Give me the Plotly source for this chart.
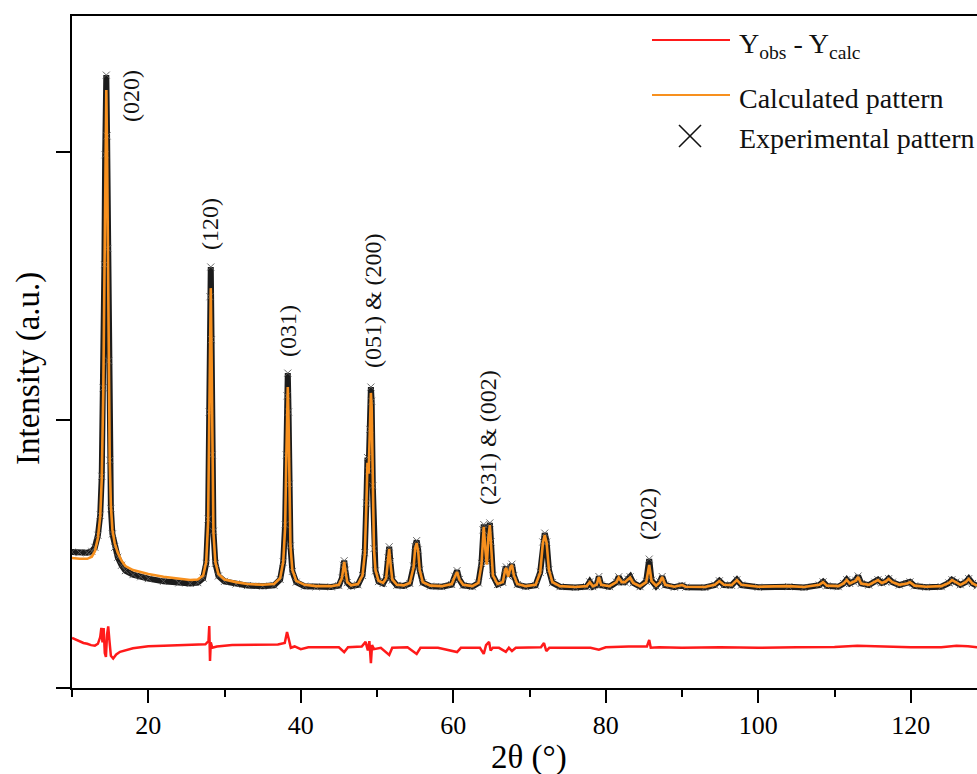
import plotly.graph_objects as go

# ---------------- data ----------------
two_theta = [
    10.0, 11.0, 12.0, 12.6, 13.0, 13.4, 13.7, 13.9, 14.1, 14.25,
    14.35, 14.5, 14.6, 14.7, 14.8, 14.95, 15.1, 15.3, 15.6, 16.0,
    16.5, 17.0, 18.0, 19.0, 20.0, 22.0, 24.0, 25.5, 26.5, 27.2,
    27.6, 27.85, 28.0, 28.1, 28.2, 28.3, 28.4, 28.55, 28.8, 29.2,
    30.0, 31.5, 33.0, 35.0, 36.5, 37.3, 37.7, 37.95, 38.1, 38.2,
    38.3, 38.4, 38.5, 38.65, 38.9, 39.4, 40.5, 42.0, 44.0, 45.0,
    45.4, 45.6, 45.7, 45.85, 46.1, 46.6, 47.5, 48.1, 48.4, 48.6,
    48.75, 48.9, 49.05, 49.2, 49.3, 49.45, 49.6, 49.8, 50.2, 50.8,
    51.2, 51.45, 51.6, 51.75, 52.0, 52.6, 53.5, 54.3, 54.8, 55.0,
    55.2, 55.4, 55.6, 56.0, 57.0, 58.5, 59.8, 60.2, 60.5, 60.8,
    61.3, 62.5, 63.3, 63.7, 63.9, 64.0, 64.2, 64.4, 64.6, 64.8,
    64.95, 65.2, 65.8, 66.5, 66.8, 66.95, 67.2, 67.5, 67.7, 67.95,
    68.4, 69.5, 70.8, 71.4, 71.75, 72.0, 72.25, 72.55, 73.0, 74.0,
    76.0, 77.5, 77.9, 78.3, 78.8, 79.1, 79.4, 80.5, 81.4, 81.7,
    82.1, 82.5, 82.9, 83.2, 83.6, 84.5, 85.3, 85.7, 86.0, 86.6,
    87.1, 87.4, 87.8, 89.0, 90.0, 90.5, 93.0, 94.3, 94.9, 95.5,
    96.5, 97.2, 97.8, 100.0, 104.0, 106.0, 108.0, 108.5, 109.0, 110.5,
    111.2, 111.6, 112.0, 112.5, 112.8, 113.1, 113.5, 114.5, 115.3, 115.7,
    116.2, 116.7, 117.1, 117.6, 118.5, 119.5, 119.9, 120.5, 122.0, 124.0,
    125.0, 125.4, 125.9, 126.5, 127.2, 127.6, 128.1, 128.7,
]

calc_intensity = [
    485, 482, 482, 490, 510, 560, 640, 780, 1100, 1550,
    1950, 2231, 2000, 1600, 1200, 850, 680, 590, 540, 505,
    475, 455, 440, 432, 425, 415, 408, 403, 405, 420,
    470, 620, 1000, 1400, 1492, 1250, 850, 580, 470, 425,
    405, 395, 388, 385, 388, 410, 470, 600, 850, 1050,
    1123, 1000, 750, 530, 440, 400, 385, 380, 380, 385,
    410, 455, 470, 440, 395, 383, 388, 420, 500, 680,
    840, 800, 950, 1101, 1050, 750, 520, 440, 400, 392,
    410, 480, 519, 470, 405, 385, 383, 392, 450, 520,
    541, 510, 440, 395, 382, 380, 388, 415, 433, 405,
    385, 380, 392, 460, 580, 601, 520, 460, 560, 608,
    540, 420, 388, 395, 440, 448, 415, 450, 459, 420,
    388, 380, 385, 430, 540, 571, 540, 440, 395, 380,
    377, 380, 395, 380, 385, 414, 385, 380, 395, 412,
    395, 395, 405, 412, 392, 380, 395, 459, 400, 382,
    395, 414, 385, 378, 384, 378, 377, 385, 399, 385,
    384, 403, 385, 378, 380, 377, 385, 395, 382, 380,
    390, 403, 390, 395, 400, 414, 390, 385, 395, 403,
    392, 397, 407, 395, 385, 390, 395, 382, 378, 380,
    392, 403, 395, 385, 395, 407, 390, 382,
]

exp_intensity = [
    507, 505, 505, 510, 525, 570, 645, 790, 1120, 1580,
    1990, 2287, 2060, 1640, 1220, 850, 670, 575, 525, 488,
    458, 438, 423, 415, 408, 398, 392, 390, 393, 410,
    465, 630, 1030, 1460, 1571, 1300, 870, 585, 465, 418,
    398, 388, 382, 380, 383, 405, 470, 610, 870, 1090,
    1175, 1030, 760, 530, 435, 395, 380, 377, 377, 382,
    410, 458, 475, 440, 393, 380, 385, 420, 505, 690,
    860, 810, 965, 1123, 1070, 755, 520, 437, 397, 390,
    410, 485, 527, 472, 403, 383, 381, 390, 455, 528,
    550, 515, 440, 393, 380, 378, 386, 417, 438, 405,
    383, 378, 392, 465, 590, 610, 525, 470, 570, 616,
    545, 420, 386, 394, 442, 452, 417, 452, 462, 420,
    386, 378, 383, 432, 545, 578, 545, 440, 393, 378,
    375, 378, 396, 378, 384, 416, 384, 378, 395, 415,
    395, 395, 406, 415, 392, 378, 398, 481, 402, 380,
    396, 416, 384, 376, 383, 376, 375, 384, 400, 384,
    383, 404, 384, 376, 378, 375, 384, 396, 381, 378,
    390, 404, 390, 396, 402, 418, 390, 384, 395, 404,
    392, 397, 408, 395, 384, 390, 396, 381, 376, 378,
    392, 404, 395, 385, 395, 408, 390, 381,
]

diff_theta = [
    10.0, 10.5, 11.0, 11.5, 12.0, 12.5, 13.0, 13.4, 13.7, 13.85,
    14.0, 14.15, 14.3, 14.45, 14.6, 14.75, 14.9, 15.1, 15.4, 15.8,
    16.3, 17.0, 18.0, 19.0, 20.0, 22.0, 24.0, 26.0, 27.5, 27.9,
    28.0, 28.1, 28.2, 28.4, 29.0, 31.0, 33.0, 35.0, 37.0, 37.9,
    38.2, 38.45, 38.7, 39.2, 40.0, 41.0, 43.0, 45.0, 45.7, 46.2,
    48.0, 48.5, 48.8, 49.0, 49.2, 49.35, 49.6, 50.5, 51.6, 52.0,
    54.0, 55.2, 55.7, 58.0, 60.5, 61.0, 63.5, 64.0, 64.3, 64.7,
    64.9, 65.2, 66.0, 66.9, 67.3, 67.7, 68.2, 71.5, 71.9, 72.2,
    72.6, 75.0, 78.0, 79.1, 80.0, 83.0, 85.4, 85.7, 85.9, 87.0,
    90.0, 95.0, 100.0, 105.0, 110.0, 113.0, 116.0, 120.0, 124.0, 126.0,
    127.5, 128.7,
]

diff_intensity = [
    187, 180, 172, 168, 165, 160, 158, 165, 190, 224,
    170, 224, 130, 116, 200, 230, 180, 120, 110, 125,
    135, 140, 148, 152, 156, 158, 160, 160, 163, 175,
    231, 101, 170, 150, 155, 160, 160, 162, 162, 168,
    209, 180, 150, 155, 145, 152, 153, 152, 134, 152,
    155, 172, 140, 175, 93, 160, 145, 150, 123, 150,
    152, 127, 150, 150, 134, 150, 150, 127, 160, 172,
    140, 150, 150, 135, 150, 138, 150, 152, 168, 138,
    150, 150, 150, 143, 152, 155, 155, 179, 150, 152,
    150, 152, 150, 152, 153, 158, 155, 152, 152, 158,
    156, 152,
]

x_tick_values = [20, 40, 60, 80, 100, 120]
y_tick_values = [0, 1000, 2000]

peak_labels = ["(020)", "(120)", "(031)", "(051) &amp; (200)", "(231) &amp; (002)", "(202)"]
label_theta = [17.74, 28.10, 38.33, 49.48, 64.56, 85.54]
label_height = [2209, 1731, 1332, 1444, 933, 649]

legend_texts = ["Y<sub>obs</sub> - Y<sub>calc</sub>", "Calculated pattern", "Experimental pattern"]

# ---------------- figure ----------------
FONT = "Liberation Serif, Times New Roman, serif"
W, H = 977, 774
ML, MR, MT, MB = 72, 0, 16, 86
PW, PH = W - ML - MR, H - MT - MB


def px(xp):
    return (xp - ML) / PW


def py(yp):
    return (H - MB - yp) / PH


ORANGE = "#F7901E"
RED = "#FF1A1A"

fig = go.Figure()
fig.add_trace(go.Scatter(
    x=two_theta, y=exp_intensity, mode="lines+markers",
    line=dict(color="#1c1c1c", width=6),
    marker=dict(symbol="x-thin", size=7, line=dict(width=1, color="rgba(90,90,90,0.9)")),
    showlegend=False, name="Experimental pattern"))
fig.add_trace(go.Scatter(
    x=two_theta, y=calc_intensity, mode="lines",
    line=dict(color=ORANGE, width=2.6),
    showlegend=False, name="Calculated pattern"))
fig.add_trace(go.Scatter(
    x=diff_theta, y=diff_intensity, mode="lines",
    line=dict(color=RED, width=2.5),
    showlegend=False, name="Yobs - Ycalc"))

annotations = []
for lab, xv, yv in zip(peak_labels, label_theta, label_height):
    annotations.append(dict(
        x=xv, y=yv, xref="x", yref="y", text=lab, textangle=-90,
        showarrow=False, xanchor="center", yanchor="middle",
        font=dict(family=FONT, size=24, color="#111111")))

annotations.append(dict(
    x=px(529), y=py(757), xref="paper", yref="paper", text="2θ (°)",
    showarrow=False, xanchor="center", yanchor="middle",
    font=dict(family=FONT, size=33, color="black")))
annotations.append(dict(
    x=px(28), y=py(369), xref="paper", yref="paper", text="Intensity (a.u.)",
    textangle=-90, showarrow=False, xanchor="center", yanchor="middle",
    font=dict(family=FONT, size=33, color="black")))

legend_rows = [46, 98, 138]
for txt, yrow in zip(legend_texts, legend_rows):
    annotations.append(dict(
        x=px(737), y=py(yrow), xref="paper", yref="paper", text=txt,
        showarrow=False, xanchor="left", yanchor="middle",
        font=dict(family=FONT, size=28, color="#111111")))

shapes = [
    dict(type="line", xref="paper", yref="paper", x0=px(652), x1=px(730),
         y0=py(40), y1=py(40), line=dict(color=RED, width=2)),
    dict(type="line", xref="paper", yref="paper", x0=px(652), x1=px(730),
         y0=py(95), y1=py(95), line=dict(color=ORANGE, width=2)),
    dict(type="line", xref="paper", yref="paper", x0=px(679), x1=px(701),
         y0=py(125), y1=py(147), line=dict(color="#111111", width=1.6)),
    dict(type="line", xref="paper", yref="paper", x0=px(679), x1=px(701),
         y0=py(147), y1=py(125), line=dict(color="#111111", width=1.6)),
]

x_max = 10 + PW / 7.625
y_max = PH / 268 * 1000

fig.update_layout(
    width=W, height=H,
    margin=dict(l=ML, r=MR, t=MT, b=MB, pad=0),
    paper_bgcolor="white", plot_bgcolor="white",
    showlegend=False,
    annotations=annotations, shapes=shapes,
    xaxis=dict(
        range=[10, x_max], showgrid=False, zeroline=False,
        showline=True, linecolor="black", linewidth=2, mirror=True,
        ticks="outside", ticklen=13, tickwidth=2, tickcolor="black",
        tickvals=x_tick_values, ticktext=[str(v) for v in x_tick_values],
        tickfont=dict(family=FONT, size=26, color="black"),
        minor=dict(dtick=10, tick0=0, ticks="outside", ticklen=7, tickwidth=2, tickcolor="black"),
        automargin=False,
    ),
    yaxis=dict(
        range=[0, y_max], showgrid=False, zeroline=False,
        showline=True, linecolor="black", linewidth=2, mirror=False,
        ticks="outside", ticklen=14, tickwidth=2, tickcolor="black",
        tickvals=y_tick_values, showticklabels=False,
        automargin=False,
    ),
)

fig.write_html("out.html")
